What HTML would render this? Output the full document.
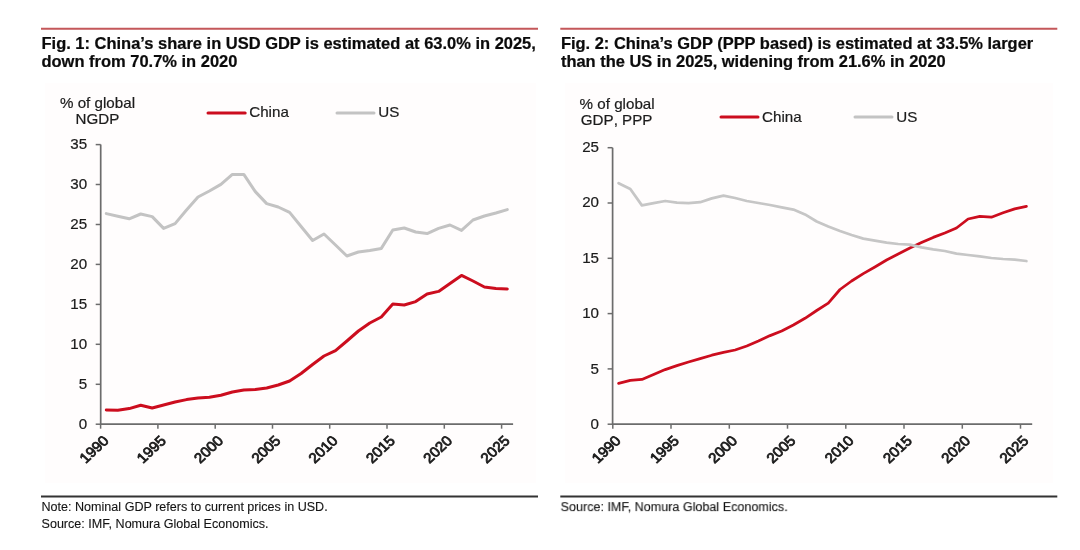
<!DOCTYPE html>
<html><head><meta charset="utf-8"><title>Fig. 1 and Fig. 2</title>
<style>
html,body{margin:0;padding:0;background:#fff;}
body{width:1080px;height:550px;position:relative;overflow:hidden;font-family:"Liberation Sans",sans-serif;color:#111;}
.bg{position:absolute;background:#fffdfd;}
svg{position:absolute;left:0;top:0;}
.t{font-family:"Liberation Sans",sans-serif;font-kerning:none;font-size:14.2px;fill:#1c1c1c;stroke:#1c1c1c;stroke-width:0.2px;}
#w{position:absolute;left:0;top:0;width:1080px;height:550px;will-change:transform;}
.r{stroke-width:0.8px;}
.ttl text{font-family:"Liberation Sans",sans-serif;font-weight:bold;font-size:16px;fill:#0b0b0b;stroke:#0b0b0b;stroke-width:0.22px;}
.ft text{font-family:"Liberation Sans",sans-serif;font-size:13.1px;fill:#141414;stroke:#141414;stroke-width:0.12px;}
</style></head><body><div id="w">
<div class="bg" style="left:45px;top:83px;width:491px;height:399.5px"></div>
<div class="bg" style="left:565px;top:83px;width:488px;height:399.5px"></div>
<svg width="1080" height="550" viewBox="0 0 1080 550">
<path d="M41,28.7 H538 M560.3,28.7 H1057.3" stroke="#c4575a" stroke-width="2" fill="none"/>
<path d="M41,496.4 H538 M560.3,496.4 H1057.3" stroke="#333" stroke-width="2" fill="none"/>
<path d="M100.7,144.6 V424.2 H513.1" fill="none" stroke="#6c6c6c" stroke-width="1.7"/>
<path d="M95.7,424.2 H100.7" stroke="#6c6c6c" stroke-width="1.5"/>
<text transform="translate(87.1,429.3) scale(1.068,1)" text-anchor="end" class="t">0</text>
<path d="M95.7,384.3 H100.7" stroke="#6c6c6c" stroke-width="1.5"/>
<text transform="translate(87.1,389.2) scale(1.068,1)" text-anchor="end" class="t">5</text>
<path d="M95.7,344.3 H100.7" stroke="#6c6c6c" stroke-width="1.5"/>
<text transform="translate(87.1,349.1) scale(1.068,1)" text-anchor="end" class="t">10</text>
<path d="M95.7,304.4 H100.7" stroke="#6c6c6c" stroke-width="1.5"/>
<text transform="translate(87.1,309.0) scale(1.068,1)" text-anchor="end" class="t">15</text>
<path d="M95.7,264.4 H100.7" stroke="#6c6c6c" stroke-width="1.5"/>
<text transform="translate(87.1,268.8) scale(1.068,1)" text-anchor="end" class="t">20</text>
<path d="M95.7,224.5 H100.7" stroke="#6c6c6c" stroke-width="1.5"/>
<text transform="translate(87.1,228.7) scale(1.068,1)" text-anchor="end" class="t">25</text>
<path d="M95.7,184.5 H100.7" stroke="#6c6c6c" stroke-width="1.5"/>
<text transform="translate(87.1,188.6) scale(1.068,1)" text-anchor="end" class="t">30</text>
<path d="M95.7,144.6 H100.7" stroke="#6c6c6c" stroke-width="1.5"/>
<text transform="translate(87.1,148.5) scale(1.068,1)" text-anchor="end" class="t">35</text>
<path d="M100.6,424.2 V428.7" stroke="#6c6c6c" stroke-width="1.5"/>
<text transform="translate(109.6,441.6) scale(1.068,1) rotate(-45)" text-anchor="end" class="t r">1990</text>
<path d="M157.9,424.2 V428.7" stroke="#6c6c6c" stroke-width="1.5"/>
<text transform="translate(166.9,441.6) scale(1.068,1) rotate(-45)" text-anchor="end" class="t r">1995</text>
<path d="M215.2,424.2 V428.7" stroke="#6c6c6c" stroke-width="1.5"/>
<text transform="translate(224.2,441.6) scale(1.068,1) rotate(-45)" text-anchor="end" class="t r">2000</text>
<path d="M272.5,424.2 V428.7" stroke="#6c6c6c" stroke-width="1.5"/>
<text transform="translate(281.5,441.6) scale(1.068,1) rotate(-45)" text-anchor="end" class="t r">2005</text>
<path d="M329.7,424.2 V428.7" stroke="#6c6c6c" stroke-width="1.5"/>
<text transform="translate(338.7,441.6) scale(1.068,1) rotate(-45)" text-anchor="end" class="t r">2010</text>
<path d="M387.0,424.2 V428.7" stroke="#6c6c6c" stroke-width="1.5"/>
<text transform="translate(396.0,441.6) scale(1.068,1) rotate(-45)" text-anchor="end" class="t r">2015</text>
<path d="M444.3,424.2 V428.7" stroke="#6c6c6c" stroke-width="1.5"/>
<text transform="translate(453.3,441.6) scale(1.068,1) rotate(-45)" text-anchor="end" class="t r">2020</text>
<path d="M501.6,424.2 V428.7" stroke="#6c6c6c" stroke-width="1.5"/>
<text transform="translate(510.6,441.6) scale(1.068,1) rotate(-45)" text-anchor="end" class="t r">2025</text>
<path d="M106.3,410.0 L117.8,410.2 L129.2,408.6 L140.7,405.2 L152.2,408.0 L163.6,405.0 L175.1,402.0 L186.5,399.6 L198.0,398.0 L209.4,397.2 L220.9,395.2 L232.4,392.0 L243.8,390.0 L255.3,389.6 L266.7,388.0 L278.2,385.0 L289.6,381.0 L301.1,373.5 L312.6,364.5 L324.0,356.0 L335.5,350.6 L346.9,341.0 L358.4,331.0 L369.8,323.0 L381.3,317.0 L392.8,304.0 L404.2,305.0 L415.7,301.6 L427.1,294.0 L438.6,291.4 L450.0,283.4 L461.5,275.4 L473.0,281.0 L484.4,287.0 L495.9,288.6 L507.3,289.0" fill="none" stroke="#cc0d1e" stroke-width="3" stroke-linejoin="round" stroke-linecap="round"/>
<path d="M106.3,213.6 L117.8,216.2 L129.2,218.8 L140.7,214.0 L152.2,216.6 L163.6,228.4 L175.1,223.6 L186.5,210.0 L198.0,197.0 L209.4,191.0 L220.9,184.4 L232.4,174.4 L243.8,174.4 L255.3,191.6 L266.7,203.6 L278.2,207.0 L289.6,212.4 L301.1,226.5 L312.6,240.5 L324.0,234.0 L335.5,245.0 L346.9,256.0 L358.4,252.0 L369.8,250.4 L381.3,248.4 L392.8,230.0 L404.2,228.0 L415.7,232.0 L427.1,233.6 L438.6,228.4 L450.0,225.0 L461.5,230.4 L473.0,220.0 L484.4,216.0 L495.9,213.0 L507.3,209.6" fill="none" stroke="#c3c3c3" stroke-width="3" stroke-linejoin="round" stroke-linecap="round"/>
<text transform="translate(97.5,108.0) scale(1.068,1)" text-anchor="middle" class="t">% of global</text>
<text transform="translate(97.5,124.0) scale(1.068,1)" text-anchor="middle" class="t">NGDP</text>
<path d="M208,112.9 H245.2" stroke="#cc0d1e" stroke-width="3" stroke-linecap="round"/>
<text transform="translate(249.2,117.4) scale(1.068,1)" text-anchor="start" class="t">China</text>
<path d="M337,112.9 H374" stroke="#c3c3c3" stroke-width="3" stroke-linecap="round"/>
<text transform="translate(378.2,117.4) scale(1.068,1)" text-anchor="start" class="t">US</text>
<path d="M612.6,147.7 V424.2 H1032.2" fill="none" stroke="#6c6c6c" stroke-width="1.7"/>
<path d="M607.6,424.2 H612.6" stroke="#6c6c6c" stroke-width="1.5"/>
<text transform="translate(599.0,429.3) scale(1.068,1)" text-anchor="end" class="t">0</text>
<path d="M607.6,368.9 H612.6" stroke="#6c6c6c" stroke-width="1.5"/>
<text transform="translate(599.0,373.8) scale(1.068,1)" text-anchor="end" class="t">5</text>
<path d="M607.6,313.6 H612.6" stroke="#6c6c6c" stroke-width="1.5"/>
<text transform="translate(599.0,318.2) scale(1.068,1)" text-anchor="end" class="t">10</text>
<path d="M607.6,258.3 H612.6" stroke="#6c6c6c" stroke-width="1.5"/>
<text transform="translate(599.0,262.7) scale(1.068,1)" text-anchor="end" class="t">15</text>
<path d="M607.6,203.0 H612.6" stroke="#6c6c6c" stroke-width="1.5"/>
<text transform="translate(599.0,207.1) scale(1.068,1)" text-anchor="end" class="t">20</text>
<path d="M607.6,147.7 H612.6" stroke="#6c6c6c" stroke-width="1.5"/>
<text transform="translate(599.0,151.6) scale(1.068,1)" text-anchor="end" class="t">25</text>
<path d="M612.8,424.2 V428.7" stroke="#6c6c6c" stroke-width="1.5"/>
<text transform="translate(621.8,441.6) scale(1.068,1) rotate(-45)" text-anchor="end" class="t r">1990</text>
<path d="M671.0,424.2 V428.7" stroke="#6c6c6c" stroke-width="1.5"/>
<text transform="translate(680.0,441.6) scale(1.068,1) rotate(-45)" text-anchor="end" class="t r">1995</text>
<path d="M729.3,424.2 V428.7" stroke="#6c6c6c" stroke-width="1.5"/>
<text transform="translate(738.3,441.6) scale(1.068,1) rotate(-45)" text-anchor="end" class="t r">2000</text>
<path d="M787.5,424.2 V428.7" stroke="#6c6c6c" stroke-width="1.5"/>
<text transform="translate(796.5,441.6) scale(1.068,1) rotate(-45)" text-anchor="end" class="t r">2005</text>
<path d="M845.8,424.2 V428.7" stroke="#6c6c6c" stroke-width="1.5"/>
<text transform="translate(854.8,441.6) scale(1.068,1) rotate(-45)" text-anchor="end" class="t r">2010</text>
<path d="M904.0,424.2 V428.7" stroke="#6c6c6c" stroke-width="1.5"/>
<text transform="translate(913.0,441.6) scale(1.068,1) rotate(-45)" text-anchor="end" class="t r">2015</text>
<path d="M962.3,424.2 V428.7" stroke="#6c6c6c" stroke-width="1.5"/>
<text transform="translate(971.3,441.6) scale(1.068,1) rotate(-45)" text-anchor="end" class="t r">2020</text>
<path d="M1020.5,424.2 V428.7" stroke="#6c6c6c" stroke-width="1.5"/>
<text transform="translate(1029.5,441.6) scale(1.068,1) rotate(-45)" text-anchor="end" class="t r">2025</text>
<path d="M618.6,383.4 L630.3,380.4 L641.9,379.4 L653.6,374.4 L665.2,369.6 L676.9,365.6 L688.5,362.0 L700.2,358.6 L711.8,355.2 L723.5,352.4 L735.1,350.0 L746.8,346.0 L758.4,341.0 L770.1,335.6 L781.7,331.0 L793.4,325.0 L805.0,318.3 L816.7,310.5 L828.3,303.2 L840.0,289.5 L851.6,281.0 L863.3,273.6 L874.9,267.0 L886.6,260.0 L898.2,254.0 L909.9,248.0 L921.5,242.6 L933.2,237.4 L944.8,233.0 L956.5,228.0 L968.1,219.0 L979.8,216.4 L991.4,217.2 L1003.1,212.8 L1014.7,208.9 L1026.4,206.4" fill="none" stroke="#cc0d1e" stroke-width="2.75" stroke-linejoin="round" stroke-linecap="round"/>
<path d="M618.6,183.2 L630.3,189.0 L641.9,205.4 L653.6,203.2 L665.2,201.0 L676.9,202.6 L688.5,203.2 L700.2,202.2 L711.8,198.4 L723.5,195.6 L735.1,198.0 L746.8,201.0 L758.4,203.0 L770.1,205.0 L781.7,207.4 L793.4,209.6 L805.0,214.4 L816.7,221.5 L828.3,226.5 L840.0,231.0 L851.6,235.0 L863.3,238.6 L874.9,240.6 L886.6,242.6 L898.2,244.0 L909.9,244.6 L921.5,247.4 L933.2,249.4 L944.8,251.0 L956.5,253.6 L968.1,255.0 L979.8,256.4 L991.4,258.0 L1003.1,259.0 L1014.7,259.6 L1026.4,261.0" fill="none" stroke="#c6c6c6" stroke-width="2.75" stroke-linejoin="round" stroke-linecap="round"/>
<text transform="translate(579.6,109.0) scale(1.068,1)" text-anchor="start" class="t">% of global</text>
<text transform="translate(580.8,124.6) scale(1.068,1)" text-anchor="start" class="t">GDP, PPP</text>
<path d="M721,117.1 H758" stroke="#cc0d1e" stroke-width="3" stroke-linecap="round"/>
<text transform="translate(762.0,121.6) scale(1.068,1)" text-anchor="start" class="t">China</text>
<path d="M855,117.1 H892" stroke="#c3c3c3" stroke-width="3" stroke-linecap="round"/>
<text transform="translate(896.2,121.6) scale(1.068,1)" text-anchor="start" class="t">US</text>
<g class="ttl">
<text transform="translate(41.5,48.5) scale(1.030,1)">Fig. 1: China’s share in USD GDP is estimated at 63.0% in 2025,</text>
<text transform="translate(41.5,67) scale(1.030,1)">down from 70.7% in 2020</text>
<text transform="translate(560.9,48.5) scale(1.029,1)">Fig. 2: China’s GDP (PPP based) is estimated at 33.5% larger</text>
<text transform="translate(560.9,67) scale(1.029,1)">than the US in 2025, widening from 21.6% in 2020</text>
</g>
<g class="ft">
<text transform="translate(41.5,511.1) scale(0.961,1)">Note: Nominal GDP refers to current prices in USD.</text>
<text transform="translate(41.5,527.5) scale(0.961,1)">Source: IMF, Nomura Global Economics.</text>
<text transform="translate(560.6,511.1) scale(0.961,1)">Source: IMF, Nomura Global Economics.</text>
</g>
</svg>
</div></body></html>
